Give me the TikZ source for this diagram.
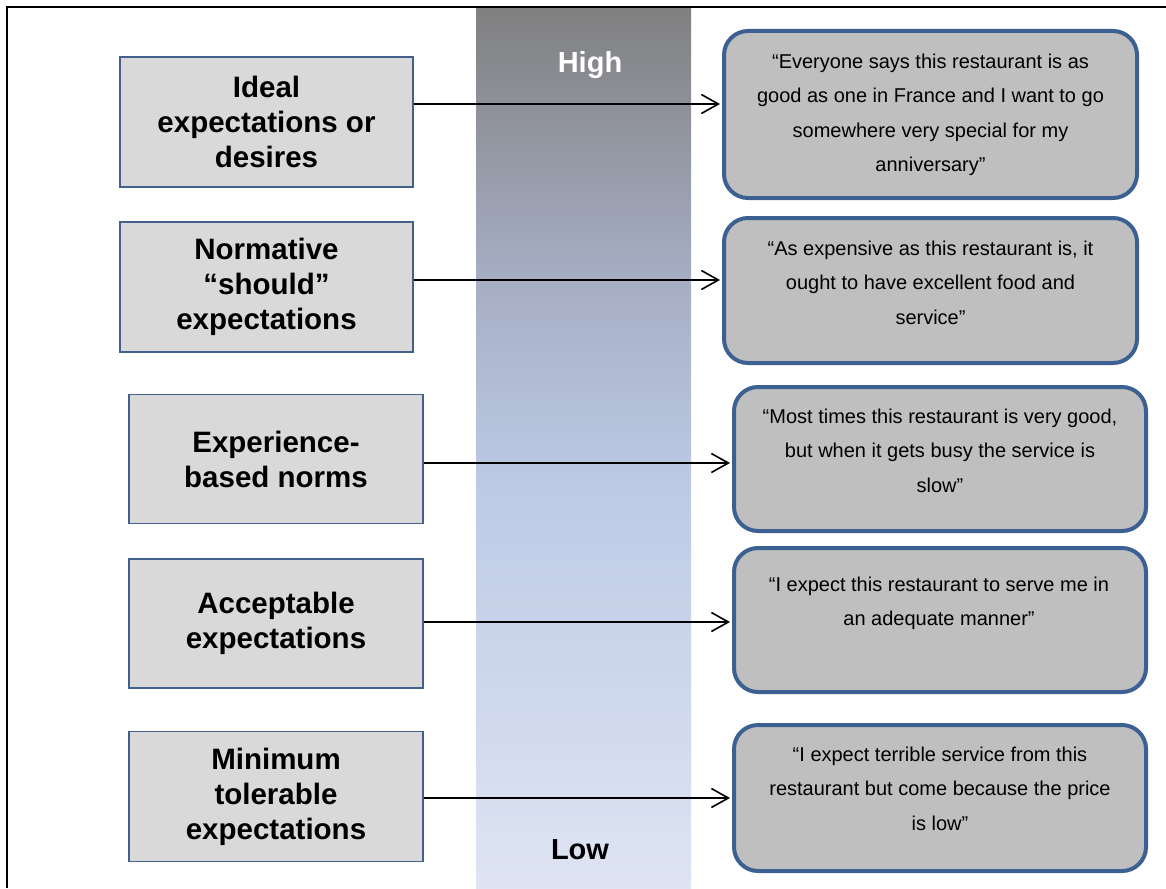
\documentclass[tikz,border=0pt]{standalone}
\usepackage{fontspec}
\setmainfont{Liberation Sans}
\usetikzlibrary{arrows.meta}
\definecolor{lfill}{RGB}{217,217,217}
\definecolor{rfill}{RGB}{191,191,191}
\definecolor{lborder}{RGB}{65,97,140}
\definecolor{rborder}{RGB}{60,96,145}
\definecolor{barbot}{RGB}{222,228,242}
\definecolor{barmid}{RGB}{190,203,230}
\definecolor{barmid2}{RGB}{165,173,195}
\definecolor{bartop}{RGB}{128,128,128}
\pgfdeclareverticalshading{barshade}{100bp}{color(0bp)=(barbot); color(25bp)=(barbot); color(47.5bp)=(barmid); color(60bp)=(barmid2); color(75bp)=(bartop); color(100bp)=(bartop)}
\begin{document}
\begin{tikzpicture}[x=1pt,y=-1pt,
  lbox/.style={draw=lborder, line width=1.8pt, fill=lfill, inner sep=0pt, align=center,
    font=\bfseries\fontsize{29.5}{35}\selectfont},
  rbox/.style={draw=rborder, line width=4pt, fill=rfill, rounded corners=24pt, inner sep=0pt},
  rtext/.style={anchor=base, align=center, inner sep=0pt, font=\fontsize{20}{34.6}\selectfont},
  bartext/.style={anchor=base, inner sep=0pt, font=\bfseries\fontsize{29}{35}\selectfont},
  arr/.style={line width=1.6pt, -{Straight Barb[length=17pt,width=19pt]}}
]
\useasboundingbox (0,0) rectangle (1166,888);
% gradient bar
\shade[shading=barshade] (476,8) rectangle (691,888);
% frame
\draw[line width=1.5pt] (7,888) -- (7,7) -- (1166,7);
\node[bartext, text=white] (high) at (590,73) {High};
\node[bartext] (low) at (580,859) {Low};
% left boxes
\node[lbox, minimum width=293pt, minimum height=130pt] (L1) at (266.5,122) {Ideal\\expectations or\\desires};
\node[lbox, minimum width=293pt, minimum height=130pt] (L2) at (266.5,287) {Normative\\“should”\\expectations};
\node[lbox, minimum width=294pt, minimum height=129pt] (L3) at (276,459) {Experience-\\based norms};
\node[lbox, minimum width=294pt, minimum height=129pt] (L4) at (276,623.5) {Acceptable\\expectations};
\node[lbox, minimum width=294pt, minimum height=130pt] (L5) at (276,796.5) {Minimum\\tolerable\\expectations};
% right boxes
\node[rbox, minimum width=413pt, minimum height=167pt] (R1) at (930.5,114.5) {};
\node[rbox, minimum width=413pt, minimum height=145pt] (R2) at (930.5,290.5) {};
\node[rbox, minimum width=412pt, minimum height=144pt] (R3) at (940,459) {};
\node[rbox, minimum width=412pt, minimum height=144pt] (R4) at (940,620) {};
\node[rbox, minimum width=412pt, minimum height=146pt] (R5) at (940,798) {};
\node[rtext] (T1) at (930.5,171.8) {“Everyone says this restaurant is as\\good as one in France and I want to go\\somewhere very special for my\\anniversary”};
\node[rtext] (T2) at (930.5,324.2) {“As expensive as this restaurant is, it\\ought to have excellent food and\\service”};
\node[rtext] (T3) at (940,492.2) {“Most times this restaurant is very good,\\but when it gets busy the service is\\slow”};
\node[rtext] (T4) at (939,625.6) {“I expect this restaurant to serve me in\\an adequate manner”};
\node[rtext] (T5) at (940,830.2) {“I expect terrible service from this\\restaurant but come because the price\\is low”};
% arrows
\draw[arr] (L1.east |- 0,104) -- ([xshift=-2pt]R1.west |- 0,104);
\draw[arr] (L2.east |- 0,280) -- ([xshift=-2pt]R2.west |- 0,280);
\draw[arr] (L3.east |- 0,463) -- ([xshift=-2pt]R3.west |- 0,463);
\draw[arr] (L4.east |- 0,622) -- ([xshift=-2pt]R4.west |- 0,622);
\draw[arr] (L5.east |- 0,798) -- ([xshift=-2pt]R5.west |- 0,798);
\end{tikzpicture}
\end{document}
